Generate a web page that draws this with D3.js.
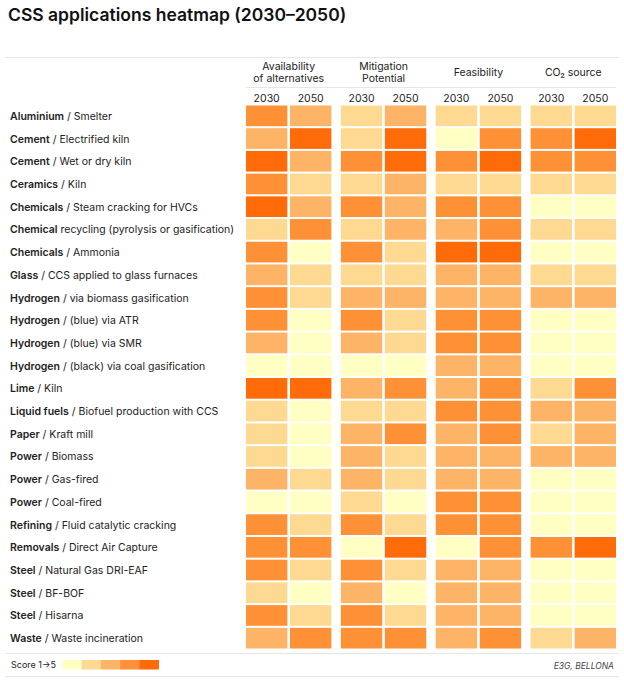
<!DOCTYPE html>
<html>
<head>
<meta charset="utf-8">
<script src="https://cdn.jsdelivr.net/npm/d3@7"></script>
<style>
  body { margin: 0; background: #fff; }
  text { font-family: Inter, "Noto Sans", sans-serif; }
</style>
</head>
<body>
<div id="chart"></div>
<script>
// row labels: bold sector + plain rest
const sectors = ["Aluminium", "Cement", "Cement", "Ceramics", "Chemicals", "Chemical", "Chemicals", "Glass",
  "Hydrogen", "Hydrogen", "Hydrogen", "Hydrogen", "Lime", "Liquid fuels", "Paper", "Power", "Power", "Power",
  "Refining", "Removals", "Steel", "Steel", "Steel", "Waste"];
const processes = [" / Smelter", " / Electrified kiln", " / Wet or dry kiln", " / Kiln", " / Steam cracking for HVCs",
  " recycling (pyrolysis or gasification)", " / Ammonia", " / CCS applied to glass furnaces",
  " / via biomass gasification", " / (blue) via ATR", " / (blue) via SMR", " / (black) via coal gasification",
  " / Kiln", " / Biofuel production with CCS", " / Kraft mill", " / Biomass", " / Gas-fired", " / Coal-fired",
  " / Fluid catalytic cracking", " / Direct Air Capture", " / Natural Gas DRI-EAF", " / BF-BOF", " / Hisarna",
  " / Waste incineration"];

const criteria = [["Availability", "of alternatives"], ["Mitigation", "Potential"], ["Feasibility"], ["CO\u2082 source"]];
const years = ["2030", "2050"];

// scores 1-5, per row: [avail 2030, avail 2050, mitig 2030, mitig 2050, feas 2030, feas 2050, co2 2030, co2 2050]
const scores = [
  [4, 3, 2, 3, 2, 2, 2, 2],
  [3, 5, 2, 5, 1, 4, 4, 5],
  [5, 3, 4, 5, 4, 5, 4, 4],
  [4, 2, 2, 3, 2, 2, 2, 2],
  [5, 3, 4, 3, 4, 4, 1, 1],
  [2, 4, 2, 3, 3, 4, 2, 2],
  [4, 1, 4, 2, 5, 5, 1, 1],
  [3, 2, 2, 2, 3, 3, 2, 2],
  [4, 2, 3, 3, 3, 3, 3, 3],
  [4, 1, 4, 2, 4, 4, 1, 1],
  [3, 1, 3, 2, 4, 4, 1, 1],
  [1, 1, 1, 1, 3, 3, 1, 1],
  [5, 5, 3, 4, 3, 4, 2, 4],
  [2, 1, 2, 2, 4, 4, 3, 3],
  [2, 1, 3, 4, 3, 4, 2, 3],
  [2, 1, 3, 2, 3, 3, 3, 3],
  [3, 2, 3, 2, 3, 3, 1, 1],
  [1, 1, 2, 1, 4, 4, 1, 1],
  [4, 2, 4, 2, 4, 4, 1, 1],
  [4, 4, 1, 5, 1, 4, 4, 5],
  [4, 2, 4, 2, 3, 3, 1, 1],
  [2, 1, 3, 1, 3, 3, 1, 1],
  [4, 2, 4, 2, 3, 3, 1, 1],
  [3, 4, 4, 4, 3, 4, 2, 3]
];

const levels = [1, 2, 3, 4, 5];
const palette = ["#ffffc3", "#fed991", "#feb466", "#fe9035", "#ff6b08"];

const W = 624, H = 680;
const svg = d3.select("#chart").append("svg").attr("width", W).attr("height", H);

const color = d3.scaleOrdinal().domain(levels).range(palette);

const rowIds = sectors.map((s, i) => i);
const y = d3.scaleBand().domain(rowIds).range([105.5, 648.5]).paddingInner(0.09);
const xGroup = d3.scaleBand().domain(d3.range(criteria.length)).range([246, 616]).paddingInner(0.1);
const xYear = d3.scaleBand().domain(years).range([0, xGroup.bandwidth()]).paddingInner(0.06);

// title
svg.append("text").attr("x", 8).attr("y", 21)
  .attr("font-size", 17.5).attr("font-weight", 600).attr("fill", "#111")
  .text("CSS applications heatmap (2030\u20132050)");

// rules
const rule = (x1, x2, yy) => svg.append("line").attr("x1", x1).attr("x2", x2).attr("y1", yy).attr("y2", yy)
  .attr("stroke", "#e6e6e6").attr("stroke-width", 1.2);
rule(5, 619, 57.5);
rule(xGroup(0), xGroup(3) + xGroup.bandwidth(), 87.5);
rule(5, 619, 653.5);
rule(5, 619, 676.5);

// criteria headers
criteria.forEach((lines, gi) => {
  const cx = xGroup(gi) + xGroup.bandwidth() / 2;
  const t = svg.append("text").attr("text-anchor", "middle").attr("font-size", 10.5).attr("fill", "#222");
  const y0 = lines.length === 2 ? 70 : 76;
  lines.forEach((l, li) => t.append("tspan").attr("x", cx).attr("y", y0 + li * 12).text(l));
  years.forEach(yr => {
    svg.append("text").attr("x", xGroup(gi) + xYear(yr) + xYear.bandwidth() / 2).attr("y", 102)
      .attr("text-anchor", "middle").attr("font-size", 10.5).attr("fill", "#222").text(yr);
  });
});

// row labels
const lab = svg.append("g").selectAll("text").data(rowIds).join("text")
  .attr("x", 10).attr("y", d => y(d) + y.bandwidth() / 2 + 4)
  .attr("font-size", 10.5).attr("fill", "#222");
lab.append("tspan").attr("font-weight", 600).text(d => sectors[d]);
lab.append("tspan").text(d => processes[d]);

// cells
const cells = [];
scores.forEach((row, ri) => row.forEach((v, ci) => cells.push({ ri, g: Math.floor(ci / 2), yr: years[ci % 2], v })));
svg.append("g").selectAll("rect").data(cells).join("rect")
  .attr("x", d => xGroup(d.g) + xYear(d.yr))
  .attr("y", d => y(d.ri))
  .attr("width", xYear.bandwidth())
  .attr("height", y.bandwidth())
  .attr("fill", d => color(d.v));

// legend
svg.append("text").attr("x", 11).attr("y", 668).attr("font-size", 9).attr("fill", "#222").text("Score 1\u21925");
const lx = d3.scaleBand().domain(levels).range([62.5, 158.5]);
svg.append("g").selectAll("rect").data(levels).join("rect")
  .attr("x", d => lx(d)).attr("y", 660).attr("width", lx.bandwidth() + 0.5).attr("height", 9.5)
  .attr("fill", d => color(d));

// source
svg.append("text").attr("x", 614).attr("y", 669).attr("text-anchor", "end")
  .attr("font-size", 8.5).attr("font-style", "italic").attr("fill", "#444").text("E3G, BELLONA");
</script>
</body>
</html>
